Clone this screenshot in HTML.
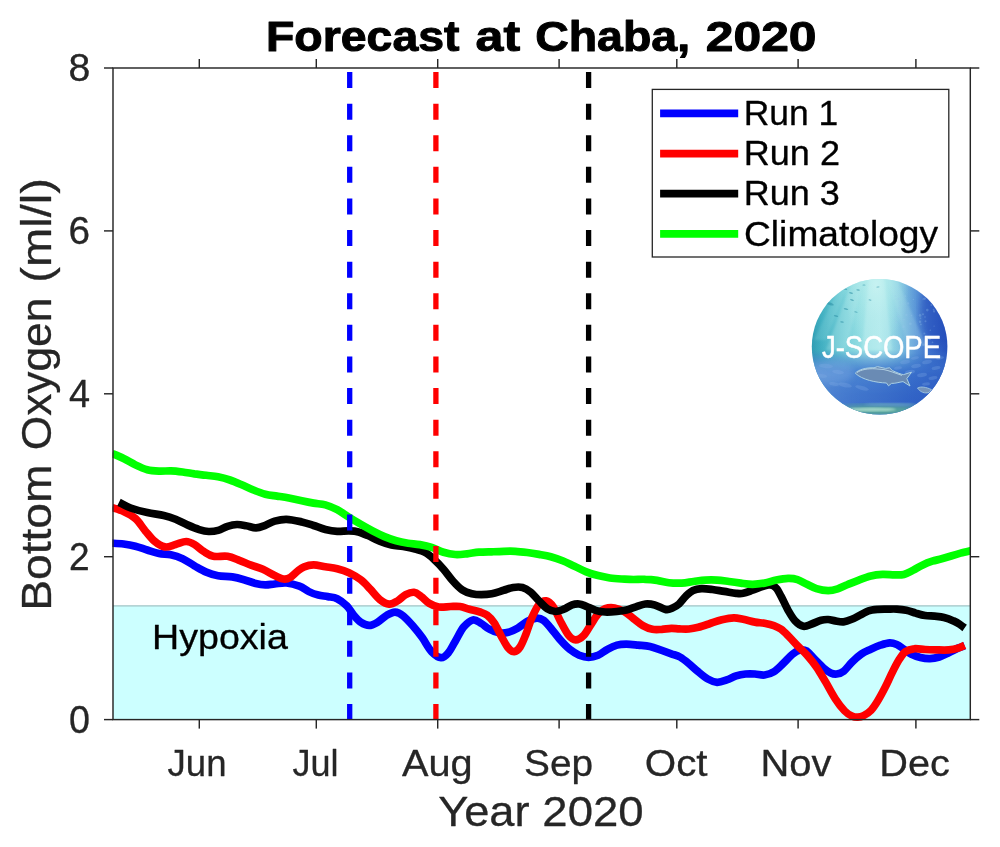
<!DOCTYPE html>
<html><head><meta charset="utf-8"><title>Forecast at Chaba, 2020</title>
<style>
html,body{margin:0;padding:0;background:#fff;}
body{width:1000px;height:847px;overflow:hidden;}
svg{display:block;}
text{font-family:"Liberation Sans",sans-serif;}
svg{will-change:transform;transform:translateZ(0);}
</style></head><body>
<svg width="1000" height="847" viewBox="0 0 1000 847">
<defs>
<clipPath id="plotclip"><rect x="112.4" y="67" width="858.6" height="655"/></clipPath>
<clipPath id="logoclip"><circle cx="879.6" cy="346.8" r="67.8"/></clipPath>
<linearGradient id="lgBase" gradientUnits="userSpaceOnUse" x1="811" y1="0" x2="948" y2="0">
<stop offset="0" stop-color="#2f9db2"/><stop offset="0.08" stop-color="#43b2c2"/><stop offset="0.25" stop-color="#7ad2da"/><stop offset="0.40" stop-color="#9ee4e6"/><stop offset="0.50" stop-color="#aceaec"/><stop offset="0.58" stop-color="#98dce6"/><stop offset="0.66" stop-color="#7fc2e0"/><stop offset="0.76" stop-color="#5c98d8"/><stop offset="0.87" stop-color="#3d6ecc"/><stop offset="1" stop-color="#2650bc"/>
</linearGradient>
<linearGradient id="lgLow" gradientUnits="userSpaceOnUse" x1="0" y1="279" x2="0" y2="415">
<stop offset="0" stop-color="#3c78cc" stop-opacity="0"/><stop offset="0.52" stop-color="#3c78cc" stop-opacity="0.03"/><stop offset="0.60" stop-color="#3c78cc" stop-opacity="0.5"/><stop offset="0.68" stop-color="#3e78cf" stop-opacity="0.92"/><stop offset="0.85" stop-color="#3468c8" stop-opacity="0.96"/><stop offset="1" stop-color="#2f60c4" stop-opacity="0.96"/>
</linearGradient>
<linearGradient id="lgLowH" gradientUnits="userSpaceOnUse" x1="811" y1="0" x2="948" y2="0">
<stop offset="0" stop-color="#78a8e0" stop-opacity="0.55"/><stop offset="0.35" stop-color="#5a90d8" stop-opacity="0.25"/><stop offset="0.7" stop-color="#2a56c2" stop-opacity="0.25"/><stop offset="1" stop-color="#2a50bc" stop-opacity="0.5"/>
</linearGradient>
<radialGradient id="lgRay" gradientUnits="userSpaceOnUse" cx="876" cy="285" r="60" gradientTransform="translate(876 285) scale(0.55 1) translate(-876 -285)">
<stop offset="0" stop-color="#c4f2f0" stop-opacity="0.9"/><stop offset="0.6" stop-color="#aeeaea" stop-opacity="0.4"/><stop offset="1" stop-color="#aeeaea" stop-opacity="0"/>
</radialGradient>
<linearGradient id="lowmaskg" gradientUnits="userSpaceOnUse" x1="0" y1="279" x2="0" y2="415"><stop offset="0.55" stop-color="#000"/><stop offset="0.70" stop-color="#fff"/></linearGradient>
<mask id="lowmask" maskUnits="userSpaceOnUse" x="800" y="270" width="160" height="160"><rect x="800" y="270" width="160" height="160" fill="url(#lowmaskg)"/></mask>
<filter id="blur05"><feGaussianBlur stdDeviation="0.5"/></filter>
<filter id="blur1"><feGaussianBlur stdDeviation="1.2"/></filter>
<filter id="blur3"><feGaussianBlur stdDeviation="3"/></filter>
</defs>
<rect x="0" y="0" width="1000" height="847" fill="#ffffff"/>

<rect x="113.0" y="605.9" width="857.3" height="113.70000000000005" fill="#ccffff"/>
<line x1="113.0" y1="605.9" x2="970.3" y2="605.9" stroke="#9fc4c6" stroke-width="1.2"/>
<g clip-path="url(#plotclip)" fill="none" stroke-linejoin="round" stroke-linecap="butt">
<path d="M112.0,543.2C113.9,543.3 119.7,543.5 123.6,544.0C127.5,544.5 131.5,545.2 135.4,546.2C139.3,547.2 143.3,548.8 147.2,550.0C151.1,551.2 155.1,552.7 159.0,553.5C162.9,554.3 166.9,553.8 170.8,554.7C174.7,555.6 178.7,556.9 182.6,558.7C186.5,560.6 190.6,563.6 194.5,565.8C198.4,568.0 202.4,570.5 206.3,572.1C210.2,573.8 213.8,574.9 218.1,575.7C222.4,576.5 227.9,576.2 232.2,576.9C236.5,577.6 240.1,578.6 244.0,579.7C247.9,580.8 252.2,582.6 255.8,583.5C259.4,584.4 262.2,584.8 265.3,584.9C268.4,585.0 271.2,584.3 274.7,584.0C278.2,583.7 282.4,582.6 286.5,583.0C290.6,583.4 295.7,584.8 299.4,586.2C303.1,587.6 305.8,590.1 308.9,591.6C312.0,593.1 315.1,594.3 318.3,595.1C321.5,595.9 324.7,596.0 327.8,596.6C330.9,597.2 334.1,597.2 337.2,598.7C340.3,600.2 343.9,603.0 346.7,605.8C349.5,608.5 351.4,612.5 353.8,615.2C356.2,618.0 358.2,620.6 360.8,622.3C363.4,624.0 366.3,625.4 369.1,625.4C371.9,625.4 374.4,624.0 377.4,622.3C380.3,620.6 383.9,616.9 386.8,615.2C389.8,613.5 392.4,612.0 395.1,612.1C397.9,612.2 400.4,613.6 403.3,615.9C406.2,618.2 409.7,622.2 412.8,625.8C415.9,629.4 419.1,633.3 422.2,637.6C425.3,641.9 428.5,648.4 431.7,651.8C434.9,655.1 438.4,657.5 441.1,657.7C443.9,657.9 445.8,655.8 448.2,653.0C450.6,650.2 452.7,645.5 455.3,641.2C457.9,636.9 460.7,630.5 463.6,627.0C466.6,623.5 470.1,620.5 473.0,619.9C475.9,619.3 478.6,622.0 481.3,623.5C484.0,625.0 486.5,627.7 489.4,629.2C492.3,630.8 495.8,632.3 498.9,632.8C502.0,633.3 505.2,633.1 508.3,632.3C511.4,631.5 514.6,629.9 517.8,628.1C520.9,626.3 524.1,623.2 527.2,621.5C530.4,619.8 533.9,618.3 536.7,618.1C539.5,617.9 541.4,618.8 543.8,620.5C546.1,622.2 548.0,624.9 550.8,628.1C553.5,631.3 557.1,636.4 560.3,639.9C563.4,643.4 566.6,646.8 569.7,649.3C572.9,651.8 576.1,653.9 579.2,655.2C582.4,656.5 585.5,657.3 588.6,657.3C591.8,657.3 595.0,656.5 598.1,655.2C601.2,653.9 604.4,651.0 607.5,649.3C610.6,647.6 613.9,646.0 617.0,645.1C620.1,644.2 622.9,644.1 626.4,644.1C629.9,644.1 634.3,644.7 638.2,645.1C642.1,645.5 646.1,645.6 650.0,646.5C653.9,647.4 658.2,649.2 661.8,650.4C665.3,651.6 668.3,652.7 671.3,653.8C674.3,654.9 677.1,655.4 680.0,657.0C682.9,658.6 685.9,661.1 688.9,663.6C691.9,666.1 695.1,669.2 698.3,671.8C701.4,674.4 704.6,677.2 707.8,679.0C710.9,680.8 714.1,682.1 717.2,682.3C720.4,682.4 723.6,681.0 726.7,679.9C729.9,678.8 733.0,676.9 736.1,675.9C739.2,674.9 742.5,674.3 745.6,674.0C748.8,673.7 751.9,673.8 755.0,674.0C758.1,674.2 761.4,675.4 764.5,675.0C767.6,674.6 770.8,673.6 773.9,671.7C777.0,669.8 780.1,666.4 783.3,663.4C786.4,660.4 790.0,656.2 792.8,654.0C795.6,651.8 797.5,650.5 799.9,650.0C802.3,649.5 804.6,649.8 807.0,651.2C809.4,652.7 811.4,655.9 814.2,658.7C817.0,661.5 820.9,665.7 823.6,668.1C826.4,670.5 828.5,671.9 830.7,672.9C832.9,673.9 834.4,674.3 836.6,674.0C838.8,673.7 841.2,673.2 843.7,671.2C846.2,669.2 849.0,665.1 851.9,662.2C854.8,659.3 858.2,656.2 861.4,654.0C864.5,651.8 867.6,650.7 870.8,649.2C873.9,647.7 877.1,646.2 880.3,645.2C883.4,644.2 887.0,643.0 889.7,642.9C892.5,642.8 894.4,643.5 896.8,644.5C899.2,645.5 901.5,647.6 903.9,649.2C906.3,650.8 908.2,652.6 911.0,654.0C913.8,655.4 917.2,656.7 920.4,657.5C923.5,658.3 926.8,658.8 929.9,658.7C933.0,658.6 936.1,658.0 939.3,657.0C942.4,656.0 945.6,654.3 948.8,652.8C951.9,651.3 955.6,649.3 958.2,648.1C960.8,646.9 963.5,646.1 964.6,645.7" stroke="#0000ff" stroke-width="7.7"/>
<path d="M112.0,507.5C113.9,508.2 119.7,509.7 123.6,511.5C127.5,513.3 131.8,515.4 135.4,518.5C139.0,521.6 141.8,526.6 144.9,530.4C148.1,534.1 151.0,538.2 154.3,541.0C157.6,543.8 161.4,546.3 164.9,546.9C168.4,547.5 172.1,545.4 175.6,544.5C179.1,543.6 183.0,541.5 186.2,541.5C189.3,541.5 191.6,542.8 194.5,544.5C197.4,546.2 200.8,549.6 203.9,551.6C207.0,553.6 209.4,555.5 213.3,556.3C217.2,557.1 223.2,555.6 227.5,556.3C231.8,557.0 235.4,558.8 239.3,560.3C243.2,561.8 247.2,563.6 251.1,565.1C255.0,566.6 259.0,567.5 262.9,569.3C266.8,571.0 271.3,574.0 274.7,575.6C278.1,577.2 280.9,578.7 283.5,579.0C286.1,579.3 287.7,578.9 290.0,577.6C292.3,576.4 294.7,573.3 297.1,571.5C299.5,569.7 301.4,567.9 304.2,566.8C306.9,565.7 310.1,564.9 313.6,564.9C317.1,564.9 321.5,566.2 325.4,566.8C329.3,567.4 333.3,567.7 337.2,568.7C341.1,569.7 345.1,570.9 349.0,572.7C352.9,574.6 357.2,577.0 360.8,579.8C364.4,582.5 367.2,585.9 370.3,589.2C373.4,592.5 376.6,596.9 379.7,599.4C382.8,601.9 386.2,603.8 389.2,604.1C392.1,604.4 394.6,602.6 397.4,601.0C400.1,599.4 402.9,596.2 405.7,594.7C408.5,593.2 411.4,592.0 414.0,592.3C416.6,592.6 418.4,594.4 421.0,596.3C423.6,598.1 426.3,601.6 429.3,603.4C432.3,605.2 435.2,606.5 438.8,607.0C442.4,607.5 447.1,606.6 450.6,606.5C454.1,606.4 456.9,606.0 460.0,606.5C463.1,607.0 466.2,608.4 469.5,609.3C472.8,610.2 477.1,611.0 480.0,612.0C482.9,613.0 484.7,613.3 487.1,615.1C489.5,616.9 491.8,619.4 494.2,622.9C496.6,626.4 498.9,632.1 501.3,636.3C503.7,640.5 506.1,645.5 508.3,648.1C510.5,650.7 512.2,651.9 514.2,651.7C516.2,651.5 518.1,650.0 520.1,647.0C522.1,644.0 524.0,638.9 526.0,634.0C528.0,629.1 529.8,622.3 532.0,617.4C534.2,612.5 536.6,607.2 539.0,604.5C541.4,601.8 543.7,600.5 546.1,600.9C548.5,601.3 550.8,603.4 553.2,606.8C555.6,610.1 557.8,616.3 560.3,621.0C562.8,625.7 566.0,632.1 568.5,635.2C571.0,638.4 573.0,639.9 575.6,639.9C578.2,639.9 581.3,637.8 583.9,635.2C586.5,632.6 588.6,628.0 591.0,624.5C593.4,621.0 595.7,616.5 598.1,613.9C600.5,611.3 602.5,609.7 605.2,608.7C608.0,607.7 611.5,607.5 614.6,608.0C617.7,608.5 620.9,609.7 624.0,611.5C627.1,613.3 630.4,616.2 633.5,618.6C636.6,621.0 639.8,623.9 642.9,625.7C646.0,627.5 649.2,628.7 652.4,629.3C655.5,629.9 658.6,629.5 661.8,629.4C664.9,629.2 668.4,628.5 671.3,628.4C674.2,628.3 676.5,628.8 679.4,628.9C682.3,629.0 685.8,629.3 688.9,629.0C692.0,628.7 694.8,628.2 698.3,627.3C701.8,626.4 706.2,624.8 710.1,623.5C714.0,622.2 718.0,620.7 721.9,619.7C725.8,618.8 730.2,617.9 733.8,617.8C737.3,617.7 739.7,618.6 743.2,619.3C746.7,620.0 751.5,621.4 755.0,622.1C758.5,622.8 761.4,622.7 764.5,623.3C767.6,623.9 771.1,624.6 773.9,625.6C776.6,626.6 778.6,627.5 781.0,629.2C783.4,630.9 785.4,633.0 788.1,635.8C790.9,638.5 794.4,642.5 797.5,645.7C800.6,648.9 803.9,651.6 807.0,655.1C810.1,658.6 813.3,662.5 816.4,667.0C819.5,671.5 822.6,677.0 825.8,682.3C828.9,687.6 832.1,694.0 835.3,698.8C838.4,703.6 842.0,708.1 844.7,711.0C847.5,713.9 849.6,715.0 851.8,716.0C854.0,717.0 855.7,717.3 857.7,717.2C859.7,717.1 861.4,716.8 863.6,715.6C865.8,714.5 868.7,712.7 871.0,710.3C873.3,707.9 875.1,705.1 877.5,701.2C879.9,697.3 882.8,691.9 885.3,687.0C887.8,682.1 890.2,676.3 892.6,671.7C895.0,667.1 897.2,662.6 899.4,659.2C901.5,655.9 903.1,653.3 905.5,651.6C907.9,649.9 910.7,649.1 914.0,648.8C917.3,648.4 921.3,649.3 925.1,649.5C928.9,649.7 933.0,649.8 937.0,649.9C941.0,650.0 945.3,650.2 948.8,649.9C952.3,649.6 955.6,648.9 958.2,648.1C960.8,647.3 963.5,645.7 964.6,645.2" stroke="#ff0000" stroke-width="7.7"/>
<path d="M119.0,502.2C121.0,503.2 126.0,506.3 130.7,508.0C135.4,509.7 141.7,511.4 147.2,512.6C152.7,513.9 159.1,514.4 163.8,515.5C168.5,516.6 171.7,517.7 175.6,519.3C179.5,520.9 183.5,523.2 187.4,524.9C191.3,526.6 195.7,528.5 199.2,529.6C202.7,530.7 205.4,531.4 208.6,531.5C211.8,531.6 214.9,531.3 218.1,530.4C221.2,529.5 224.3,527.3 227.5,526.3C230.7,525.3 233.8,524.6 237.0,524.5C240.2,524.4 243.2,525.2 246.4,525.8C249.6,526.3 252.8,527.9 256.0,527.8C259.1,527.7 262.2,526.4 265.3,525.3C268.4,524.2 271.2,522.1 274.7,521.1C278.2,520.1 282.0,519.2 286.5,519.3C291.0,519.4 297.3,520.9 301.8,521.9C306.3,522.9 309.7,524.2 313.6,525.5C317.5,526.8 321.5,528.5 325.4,529.5C329.3,530.5 333.3,531.2 337.2,531.4C341.1,531.6 345.4,530.8 349.0,530.9C352.6,531.0 355.4,531.1 358.5,531.9C361.6,532.7 364.4,534.0 367.9,535.6C371.4,537.2 375.8,539.7 379.7,541.3C383.6,542.9 387.6,544.2 391.5,545.1C395.4,546.0 399.4,545.8 403.3,546.5C407.2,547.2 411.6,548.1 415.1,549.1C418.7,550.1 421.5,550.5 424.6,552.2C427.8,553.9 430.9,556.5 434.0,559.3C437.1,562.1 440.4,565.6 443.5,569.2C446.6,572.8 449.8,577.5 452.9,581.0C456.0,584.5 459.2,587.9 462.4,590.0C465.5,592.1 468.6,592.9 471.8,593.7C475.0,594.5 478.0,594.7 481.3,594.7C484.6,594.7 488.1,594.5 491.8,593.8C495.5,593.1 500.1,591.3 503.6,590.3C507.2,589.2 510.0,588.0 513.1,587.5C516.2,587.0 519.5,586.7 522.5,587.5C525.5,588.3 528.0,590.0 530.8,592.2C533.5,594.4 536.2,598.1 539.0,600.9C541.8,603.6 544.5,606.9 547.3,608.7C550.1,610.5 552.9,611.4 555.6,611.5C558.4,611.6 561.0,610.3 563.8,609.2C566.5,608.1 569.5,605.8 572.1,604.9C574.7,604.0 576.8,603.8 579.2,604.0C581.6,604.2 583.5,605.2 586.3,606.3C589.0,607.4 592.6,609.4 595.7,610.4C598.9,611.4 601.7,611.8 605.2,612.0C608.8,612.2 613.5,611.8 617.0,611.5C620.5,611.2 623.2,610.9 626.4,610.1C629.5,609.3 632.8,607.8 635.9,606.8C639.0,605.8 642.2,604.3 645.3,604.0C648.4,603.7 651.2,604.0 654.7,604.9C658.2,605.8 663.0,609.1 666.0,609.6C669.0,610.1 670.3,608.9 672.5,608.0C674.7,607.1 676.8,606.0 679.0,604.0C681.2,602.0 683.7,598.2 686.0,596.0C688.3,593.8 690.4,591.7 693.0,590.5C695.6,589.3 698.2,588.8 701.5,588.6C704.8,588.4 708.7,589.0 712.5,589.5C716.3,590.0 720.4,590.8 724.3,591.4C728.2,592.0 733.0,593.0 736.1,593.3C739.2,593.6 740.5,593.8 743.2,593.3C746.0,592.8 749.5,591.3 752.6,590.2C755.8,589.1 759.5,587.6 762.1,586.7C764.8,585.8 766.7,585.2 768.5,585.0C770.3,584.8 771.6,584.9 773.0,585.6C774.4,586.3 775.7,587.2 777.0,589.0C778.3,590.8 779.1,592.6 781.0,596.1C782.9,599.6 785.8,606.2 788.1,610.3C790.5,614.4 792.6,618.2 795.1,620.9C797.6,623.6 800.6,625.8 803.4,626.3C806.2,626.8 808.8,625.0 811.7,624.0C814.7,623.0 818.4,621.0 821.1,620.2C823.9,619.5 825.8,619.4 828.2,619.5C830.6,619.6 832.8,620.5 835.3,620.9C837.8,621.3 840.8,622.1 843.5,621.8C846.2,621.5 848.8,620.5 851.8,619.3C854.8,618.1 858.5,615.9 861.3,614.5C864.1,613.1 865.7,611.7 868.5,610.8C871.3,609.9 874.8,609.6 877.9,609.3C881.0,609.0 884.2,609.1 887.4,609.1C890.5,609.1 893.6,608.9 896.8,609.1C899.9,609.3 903.1,609.6 906.3,610.3C909.4,611.0 912.6,612.2 915.7,613.1C918.8,614.0 922.0,615.0 925.1,615.5C928.2,616.0 931.5,615.9 934.6,616.2C937.8,616.5 940.9,616.6 944.0,617.4C947.1,618.2 950.7,619.6 953.5,620.9C956.3,622.1 958.8,623.7 960.6,624.9C962.5,626.1 963.9,627.5 964.6,628.0" stroke="#000000" stroke-width="7.7"/>
<path d="M112.0,453.5C113.9,454.3 119.7,456.6 123.6,458.5C127.5,460.4 131.5,463.0 135.4,464.9C139.3,466.8 143.3,468.7 147.2,469.7C151.1,470.7 155.1,470.9 159.0,471.1C162.9,471.3 166.9,470.8 170.8,470.9C174.7,471.0 178.7,471.5 182.6,472.0C186.5,472.5 190.4,473.3 194.4,473.9C198.4,474.4 202.4,474.8 206.3,475.3C210.2,475.8 214.1,476.0 218.0,476.8C221.9,477.6 226.0,478.7 229.9,480.0C233.8,481.3 237.8,483.1 241.7,484.8C245.6,486.5 249.6,488.4 253.5,490.0C257.4,491.6 261.4,493.2 265.3,494.2C269.2,495.2 273.2,495.5 277.1,496.1C281.0,496.7 284.8,497.2 288.9,498.0C293.0,498.8 297.7,499.8 301.8,500.7C305.9,501.6 309.7,502.4 313.6,503.1C317.5,503.8 321.5,503.8 325.4,504.9C329.3,506.0 333.3,507.6 337.2,509.7C341.1,511.8 345.1,514.8 349.0,517.2C352.9,519.6 356.9,522.0 360.8,524.3C364.7,526.6 368.7,528.8 372.6,530.9C376.6,533.0 380.6,535.0 384.5,536.6C388.4,538.2 392.4,539.7 396.3,540.8C400.2,541.9 404.2,542.6 408.1,543.2C412.0,543.8 416.0,543.9 419.9,544.6C423.8,545.3 427.8,546.1 431.7,547.4C435.6,548.7 439.6,551.0 443.5,552.2C447.4,553.4 451.4,554.2 455.3,554.5C459.2,554.8 463.2,554.2 467.1,553.8C471.0,553.4 474.8,552.5 478.9,552.2C483.0,551.9 487.7,551.9 491.8,551.8C495.9,551.6 499.7,551.4 503.6,551.3C507.5,551.2 511.5,551.1 515.4,551.3C519.3,551.5 523.3,552.0 527.2,552.5C531.1,553.0 535.1,553.7 539.0,554.4C542.9,555.1 546.9,555.7 550.8,556.8C554.7,557.9 558.6,559.2 562.6,560.8C566.6,562.4 570.5,564.4 574.5,566.2C578.5,568.1 582.4,570.3 586.3,571.9C590.2,573.5 594.2,574.6 598.1,575.6C602.0,576.6 606.0,577.4 609.9,578.0C613.8,578.6 617.8,578.8 621.7,579.0C625.6,579.2 629.6,579.5 633.5,579.5C637.4,579.5 641.4,579.1 645.3,579.3C649.2,579.4 653.2,579.8 657.1,580.4C661.0,581.0 664.8,582.2 668.9,582.7C673.0,583.2 677.7,583.3 681.8,583.1C685.9,582.9 689.7,582.0 693.6,581.5C697.5,581.0 701.5,580.3 705.4,580.1C709.3,579.9 713.3,579.9 717.2,580.1C721.1,580.3 725.1,581.0 729.0,581.5C732.9,582.0 736.9,582.6 740.8,583.1C744.7,583.6 748.6,584.3 752.6,584.3C756.6,584.3 760.5,583.8 764.5,583.1C768.5,582.4 772.4,580.9 776.3,580.1C780.2,579.3 784.6,578.5 788.1,578.4C791.6,578.3 794.4,578.6 797.5,579.6C800.6,580.6 803.9,582.8 807.0,584.3C810.1,585.8 812.9,587.5 816.4,588.6C819.9,589.7 824.7,590.6 828.2,590.6C831.8,590.6 834.6,589.8 837.7,588.8C840.9,587.8 843.6,586.2 847.1,584.8C850.6,583.3 855.0,581.6 858.9,580.1C862.8,578.6 866.8,577.0 870.8,576.0C874.8,575.0 878.6,574.6 882.6,574.4C886.6,574.2 891.0,574.9 894.5,574.9C898.0,574.9 900.8,575.2 903.9,574.4C907.0,573.6 910.1,571.7 913.3,570.1C916.4,568.5 919.6,566.4 922.8,564.9C925.9,563.4 929.1,562.2 932.2,561.2C935.4,560.2 938.6,559.7 941.7,558.8C944.9,557.9 948.0,557.0 951.1,556.0C954.2,555.0 957.3,554.0 960.6,553.1C963.9,552.2 969.3,551.0 971.0,550.6" stroke="#00ff00" stroke-width="7.7"/>
<line x1="349.7" y1="720.05" x2="349.7" y2="68.0" stroke="#0000ff" stroke-width="5.3" stroke-dasharray="16 15.6"/>
<line x1="435.9" y1="720.05" x2="435.9" y2="68.0" stroke="#ff0000" stroke-width="5.3" stroke-dasharray="16 15.6"/>
<line x1="588.6" y1="720.05" x2="588.6" y2="68.0" stroke="#000000" stroke-width="5.3" stroke-dasharray="16 15.6"/>
</g>
<g stroke="#262626" stroke-width="1.45" fill="none">
<rect x="113.0" y="68.0" width="857.3" height="651.6"/>
<line x1="199.3" y1="719.6" x2="199.3" y2="728.6"/>
<line x1="199.3" y1="68.0" x2="199.3" y2="59.0"/>
<line x1="316.3" y1="719.6" x2="316.3" y2="728.6"/>
<line x1="316.3" y1="68.0" x2="316.3" y2="59.0"/>
<line x1="437.7" y1="719.6" x2="437.7" y2="728.6"/>
<line x1="437.7" y1="68.0" x2="437.7" y2="59.0"/>
<line x1="559.1" y1="719.6" x2="559.1" y2="728.6"/>
<line x1="559.1" y1="68.0" x2="559.1" y2="59.0"/>
<line x1="676.8" y1="719.6" x2="676.8" y2="728.6"/>
<line x1="676.8" y1="68.0" x2="676.8" y2="59.0"/>
<line x1="798.1" y1="719.6" x2="798.1" y2="728.6"/>
<line x1="798.1" y1="68.0" x2="798.1" y2="59.0"/>
<line x1="915.9" y1="719.6" x2="915.9" y2="728.6"/>
<line x1="915.9" y1="68.0" x2="915.9" y2="59.0"/>
<line x1="113.0" y1="719.6" x2="104.0" y2="719.6"/>
<line x1="970.3" y1="719.6" x2="979.3" y2="719.6"/>
<line x1="113.0" y1="556.7" x2="104.0" y2="556.7"/>
<line x1="970.3" y1="556.7" x2="979.3" y2="556.7"/>
<line x1="113.0" y1="393.8" x2="104.0" y2="393.8"/>
<line x1="970.3" y1="393.8" x2="979.3" y2="393.8"/>
<line x1="113.0" y1="230.9" x2="104.0" y2="230.9"/>
<line x1="970.3" y1="230.9" x2="979.3" y2="230.9"/>
<line x1="113.0" y1="68.0" x2="104.0" y2="68.0"/>
<line x1="970.3" y1="68.0" x2="979.3" y2="68.0"/>
</g>
<text x="266.00" y="50.60" font-size="42.15" font-weight="bold" fill="#000000" stroke="#000000" stroke-width="1.0" stroke-linejoin="round" textLength="193.47" lengthAdjust="spacingAndGlyphs">Forecast</text>
<text x="475.53" y="50.60" font-size="42.15" font-weight="bold" fill="#000000" stroke="#000000" stroke-width="1.0" stroke-linejoin="round" textLength="44.58" lengthAdjust="spacingAndGlyphs">at</text>
<text x="535.19" y="50.60" font-size="42.15" font-weight="bold" fill="#000000" stroke="#000000" stroke-width="1.0" stroke-linejoin="round" textLength="154.91" lengthAdjust="spacingAndGlyphs">Chaba,</text>
<text x="705.77" y="50.60" font-size="42.15" font-weight="bold" fill="#000000" stroke="#000000" stroke-width="1.0" stroke-linejoin="round" textLength="110.77" lengthAdjust="spacingAndGlyphs">2020</text>
<text x="68.55" y="80.90" font-size="37.94" fill="#262626" stroke="#262626" stroke-width="0.3" stroke-linejoin="round" textLength="21.81" lengthAdjust="spacingAndGlyphs">8</text>
<text x="68.58" y="243.80" font-size="37.94" fill="#262626" stroke="#262626" stroke-width="0.3" stroke-linejoin="round" textLength="21.57" lengthAdjust="spacingAndGlyphs">6</text>
<text x="68.88" y="406.70" font-size="37.94" fill="#262626" stroke="#262626" stroke-width="0.3" stroke-linejoin="round" textLength="21.08" lengthAdjust="spacingAndGlyphs">4</text>
<text x="68.98" y="569.60" font-size="37.94" fill="#262626" stroke="#262626" stroke-width="0.3" stroke-linejoin="round" textLength="20.63" lengthAdjust="spacingAndGlyphs">2</text>
<text x="68.98" y="732.50" font-size="37.94" fill="#262626" stroke="#262626" stroke-width="0.3" stroke-linejoin="round" textLength="20.94" lengthAdjust="spacingAndGlyphs">0</text>
<text x="167.58" y="775.80" font-size="37.79" fill="#262626" stroke="#262626" stroke-width="0.3" stroke-linejoin="round" textLength="58.95" lengthAdjust="spacingAndGlyphs">Jun</text>
<text x="292.39" y="775.80" font-size="37.79" fill="#262626" stroke="#262626" stroke-width="0.3" stroke-linejoin="round" textLength="46.07" lengthAdjust="spacingAndGlyphs">Jul</text>
<text x="402.07" y="775.80" font-size="37.79" fill="#262626" stroke="#262626" stroke-width="0.3" stroke-linejoin="round" textLength="70.64" lengthAdjust="spacingAndGlyphs">Aug</text>
<text x="523.99" y="775.80" font-size="37.79" fill="#262626" stroke="#262626" stroke-width="0.3" stroke-linejoin="round" textLength="69.09" lengthAdjust="spacingAndGlyphs">Sep</text>
<text x="644.74" y="775.80" font-size="37.79" fill="#262626" stroke="#262626" stroke-width="0.3" stroke-linejoin="round" textLength="62.81" lengthAdjust="spacingAndGlyphs">Oct</text>
<text x="760.48" y="775.80" font-size="37.79" fill="#262626" stroke="#262626" stroke-width="0.3" stroke-linejoin="round" textLength="70.91" lengthAdjust="spacingAndGlyphs">Nov</text>
<text x="879.29" y="775.80" font-size="37.79" fill="#262626" stroke="#262626" stroke-width="0.3" stroke-linejoin="round" textLength="70.60" lengthAdjust="spacingAndGlyphs">Dec</text>
<text x="438.16" y="825.90" font-size="42.15" fill="#262626" stroke="#262626" stroke-width="0.3" stroke-linejoin="round" textLength="91.45" lengthAdjust="spacingAndGlyphs">Year</text>
<text x="542.36" y="825.90" font-size="42.15" fill="#262626" stroke="#262626" stroke-width="0.3" stroke-linejoin="round" textLength="101.27" lengthAdjust="spacingAndGlyphs">2020</text>
<text transform="translate(51.20,607.05) rotate(-90)" x="-3.79" y="0" font-size="42.59" fill="#262626" stroke="#262626" stroke-width="0.3" stroke-linejoin="round" textLength="146.33" lengthAdjust="spacingAndGlyphs">Bottom</text>
<text transform="translate(51.20,448.25) rotate(-90)" x="-2.10" y="0" font-size="42.59" fill="#262626" stroke="#262626" stroke-width="0.3" stroke-linejoin="round" textLength="152.78" lengthAdjust="spacingAndGlyphs">Oxygen</text>
<text transform="translate(51.20,279.85) rotate(-90)" x="-2.92" y="0" font-size="42.59" fill="#262626" stroke="#262626" stroke-width="0.3" stroke-linejoin="round" textLength="104.64" lengthAdjust="spacingAndGlyphs">(ml/l)</text>
<text x="152.07" y="649.00" font-size="35.17" fill="#000000" stroke="#000000" stroke-width="0.3" stroke-linejoin="round" textLength="135.78" lengthAdjust="spacingAndGlyphs">Hypoxia</text>
<rect x="652.3" y="89.4" width="296.5" height="167.6" fill="#ffffff" stroke="#262626" stroke-width="1.3"/>
<line x1="660.1" y1="113.4" x2="738.2" y2="113.4" stroke="#0000ff" stroke-width="7.7"/>
<line x1="660.1" y1="153.6" x2="738.2" y2="153.6" stroke="#ff0000" stroke-width="7.7"/>
<line x1="660.1" y1="193.7" x2="738.2" y2="193.7" stroke="#000000" stroke-width="7.7"/>
<line x1="660.1" y1="233.9" x2="738.2" y2="233.9" stroke="#00ff00" stroke-width="7.7"/>
<text x="743.74" y="125.00" font-size="34.16" fill="#000000" stroke="#000000" stroke-width="0.3" stroke-linejoin="round" textLength="94.54" lengthAdjust="spacingAndGlyphs">Run 1</text>
<text x="743.69" y="165.20" font-size="34.16" fill="#000000" stroke="#000000" stroke-width="0.3" stroke-linejoin="round" textLength="96.27" lengthAdjust="spacingAndGlyphs">Run 2</text>
<text x="743.70" y="205.30" font-size="34.16" fill="#000000" stroke="#000000" stroke-width="0.3" stroke-linejoin="round" textLength="96.03" lengthAdjust="spacingAndGlyphs">Run 3</text>
<text x="744.06" y="245.50" font-size="34.16" fill="#000000" stroke="#000000" stroke-width="0.3" stroke-linejoin="round" textLength="194.06" lengthAdjust="spacingAndGlyphs">Climatology</text>
<g clip-path="url(#logoclip)">
<rect x="808" y="276" width="144" height="142" fill="url(#lgBase)"/>
<rect x="808" y="276" width="144" height="142" fill="url(#lgRay)"/>
<rect x="808" y="276" width="144" height="142" fill="url(#lgLow)"/>
<rect x="808" y="276" width="144" height="142" fill="url(#lgLowH)" mask="url(#lowmask)"/>
<g filter="url(#blur1)">
<polygon points="869,278 884,278 892,350 862,350" fill="#d2f6f4" opacity="0.30"/>
<polygon points="852,282 863,279 846,350 826,350" fill="#c8f2f0" opacity="0.22"/>
<polygon points="888,279 898,282 926,345 908,348" fill="#bfeaf2" opacity="0.20"/>
<polygon points="838,289 848,284 826,340 814,340" fill="#bfeeee" opacity="0.14"/>
</g>
<ellipse cx="938" cy="312" rx="18" ry="34" fill="#2448b8" opacity="0.45" filter="url(#blur3)"/>
<g fill="#2c8ea4" opacity="0.55" filter="url(#blur05)">
<ellipse cx="829" cy="303.5" rx="5" ry="1.3" transform="rotate(18 829 303.5)"/>
<ellipse cx="845" cy="289" rx="2.2" ry="0.8" transform="rotate(10 845 289)"/>
<ellipse cx="851" cy="293" rx="2" ry="0.7" transform="rotate(15 851 293)"/>
<ellipse cx="858" cy="290" rx="1.8" ry="0.7" transform="rotate(5 858 290)"/>
<ellipse cx="852" cy="300" rx="2" ry="0.7" transform="rotate(20 852 300)"/>
<ellipse cx="846" cy="309" rx="2.4" ry="0.8" transform="rotate(15 846 309)"/>
<ellipse cx="836" cy="316" rx="2.2" ry="0.8" transform="rotate(10 836 316)"/>
<ellipse cx="864" cy="285" rx="1.6" ry="0.6" transform="rotate(0 864 285)"/>
<ellipse cx="878" cy="287" rx="1.6" ry="0.6" transform="rotate(-5 878 287)"/>
<ellipse cx="856" cy="312" rx="1.8" ry="0.6" transform="rotate(12 856 312)"/>
<ellipse cx="842" cy="322" rx="2" ry="0.7" transform="rotate(10 842 322)"/>
<ellipse cx="870" cy="300" rx="1.5" ry="0.6" transform="rotate(8 870 300)"/>
</g>
<g fill="#9cc8ec" opacity="0.28" filter="url(#blur05)">
<circle cx="908.2" cy="303.4" r="1.1"/>
<circle cx="896.4" cy="322.3" r="0.9"/>
<circle cx="895.7" cy="320.9" r="0.6"/>
<circle cx="913.4" cy="299.4" r="0.7"/>
<circle cx="913.0" cy="336.5" r="0.7"/>
<circle cx="903.5" cy="326.7" r="1.3"/>
<circle cx="920.1" cy="315.4" r="1.3"/>
<circle cx="895.2" cy="338.1" r="0.8"/>
<circle cx="899.8" cy="301.8" r="0.8"/>
<circle cx="931.4" cy="304.9" r="1.0"/>
<circle cx="923.0" cy="314.2" r="1.0"/>
<circle cx="896.0" cy="298.9" r="0.7"/>
<circle cx="925.0" cy="317.0" r="0.8"/>
<circle cx="920.5" cy="318.2" r="0.8"/>
<circle cx="930.3" cy="330.3" r="0.8"/>
<circle cx="920.0" cy="321.7" r="1.2"/>
<circle cx="927.3" cy="310.1" r="1.3"/>
<circle cx="898.5" cy="316.5" r="1.1"/>
<circle cx="900.1" cy="320.0" r="0.6"/>
<circle cx="924.4" cy="333.5" r="1.0"/>
<circle cx="934.1" cy="311.4" r="1.1"/>
<circle cx="920.9" cy="324.4" r="0.9"/>
<circle cx="932.5" cy="342.3" r="0.9"/>
<circle cx="924.2" cy="299.0" r="1.1"/>
<circle cx="923.4" cy="344.7" r="1.2"/>
<circle cx="906.4" cy="314.9" r="1.1"/>
<circle cx="894.1" cy="318.6" r="0.7"/>
<circle cx="898.5" cy="298.9" r="1.1"/>
<circle cx="899.1" cy="308.1" r="0.9"/>
<circle cx="934.0" cy="299.9" r="0.9"/>
<circle cx="918.8" cy="339.3" r="1.2"/>
<circle cx="933.6" cy="309.6" r="0.9"/>
<circle cx="909.9" cy="339.3" r="1.3"/>
<circle cx="900.1" cy="304.6" r="0.8"/>
<circle cx="904.0" cy="319.8" r="1.0"/>
<circle cx="905.3" cy="296.2" r="0.9"/>
<circle cx="910.4" cy="323.8" r="1.3"/>
<circle cx="925.5" cy="321.3" r="1.0"/>
<circle cx="924.8" cy="298.6" r="1.2"/>
<circle cx="929.7" cy="338.9" r="1.2"/>
<circle cx="911.4" cy="315.5" r="0.7"/>
<circle cx="922.8" cy="299.1" r="0.6"/>
<circle cx="902.8" cy="304.0" r="0.8"/>
<circle cx="895.5" cy="296.0" r="0.7"/>
<circle cx="897.8" cy="313.8" r="0.6"/>
<circle cx="934.1" cy="326.1" r="0.7"/>
</g>
<g fill="#7ea8e4" opacity="0.30" filter="url(#blur05)">
<ellipse cx="905" cy="362" rx="5" ry="2" transform="rotate(-10 905 362)"/>
<ellipse cx="916" cy="366" rx="5" ry="2" transform="rotate(-10 916 366)"/>
<ellipse cx="927" cy="362" rx="5" ry="2" transform="rotate(-12 927 362)"/>
<ellipse cx="936" cy="368" rx="4.5" ry="1.8" transform="rotate(-10 936 368)"/>
<ellipse cx="910" cy="372" rx="5" ry="2" transform="rotate(-8 910 372)"/>
<ellipse cx="922" cy="375" rx="5" ry="2" transform="rotate(-8 922 375)"/>
<ellipse cx="933" cy="378" rx="4.5" ry="1.8" transform="rotate(-8 933 378)"/>
<ellipse cx="898" cy="368" rx="4" ry="1.6" transform="rotate(-8 898 368)"/>
<ellipse cx="915" cy="358" rx="4" ry="1.6" transform="rotate(-10 915 358)"/>
<ellipse cx="940" cy="358" rx="4" ry="1.6" transform="rotate(-10 940 358)"/>
<ellipse cx="926" cy="384" rx="4" ry="1.6" transform="rotate(-5 926 384)"/>
<ellipse cx="826" cy="366" rx="7" ry="2.2" transform="rotate(5 826 366)"/>
<ellipse cx="838" cy="372" rx="6" ry="2" transform="rotate(8 838 372)"/>
<ellipse cx="822" cy="376" rx="5" ry="1.8" transform="rotate(5 822 376)"/>
<ellipse cx="845" cy="385" rx="7" ry="2.2" transform="rotate(12 845 385)"/>
<ellipse cx="862" cy="388" rx="7" ry="2" transform="rotate(15 862 388)"/>
<ellipse cx="834" cy="384" rx="5" ry="1.8" transform="rotate(8 834 384)"/>
</g>
<ellipse cx="832" cy="372" rx="22" ry="12" fill="#8ab6e6" opacity="0.30" filter="url(#blur3)"/>
<ellipse cx="881" cy="410.5" rx="42" ry="5.5" fill="#5aaa98" filter="url(#blur3)"/>
<ellipse cx="872" cy="409.5" rx="24" ry="2.0" fill="#b4e2d0" opacity="0.8" filter="url(#blur1)"/>
<ellipse cx="890" cy="404.5" rx="26" ry="1.6" fill="#6aa0d0" opacity="0.6" filter="url(#blur1)"/>
<g filter="url(#blur05)">
<path d="M855.3,373.2 C858,369.8 866,367.4 874,367.8 L877.5,366.6 L885.5,368.4 L889.5,367.8 L892.5,370.6 C897,372.6 901,374.4 903.5,374.6 L911.5,372.2 L906.8,378.6 L910,386 L903,381.6 C899,382.2 895,383.6 891.5,383.4 L888.5,385.8 L886.5,383 C876,382.6 862,379.8 855.3,373.2 Z" fill="#6b8bb4" stroke="#a9cfe4" stroke-width="1.0" stroke-linejoin="round"/>
<path d="M857,372.6 C861,369.6 868,368.4 875,368.8 L884,369.6 C889,370.6 895,373 902,375.4" fill="none" stroke="#c4e2ee" stroke-width="1.0" opacity="0.8"/>
<path d="M917.5,388 C921,386.2 926,387 931.5,389.6 L929,392.4 C925,394 920,392 917.5,388 Z" fill="#7494bc" stroke="#a9cfe4" stroke-width="0.8"/>
</g>
</g>
<text x="821.92" y="357.70" font-size="31.10" fill="#ffffff" stroke="#ffffff" stroke-width="0.5" stroke-linejoin="round" textLength="119.11" lengthAdjust="spacingAndGlyphs">J-SCOPE</text>
</svg></body></html>
